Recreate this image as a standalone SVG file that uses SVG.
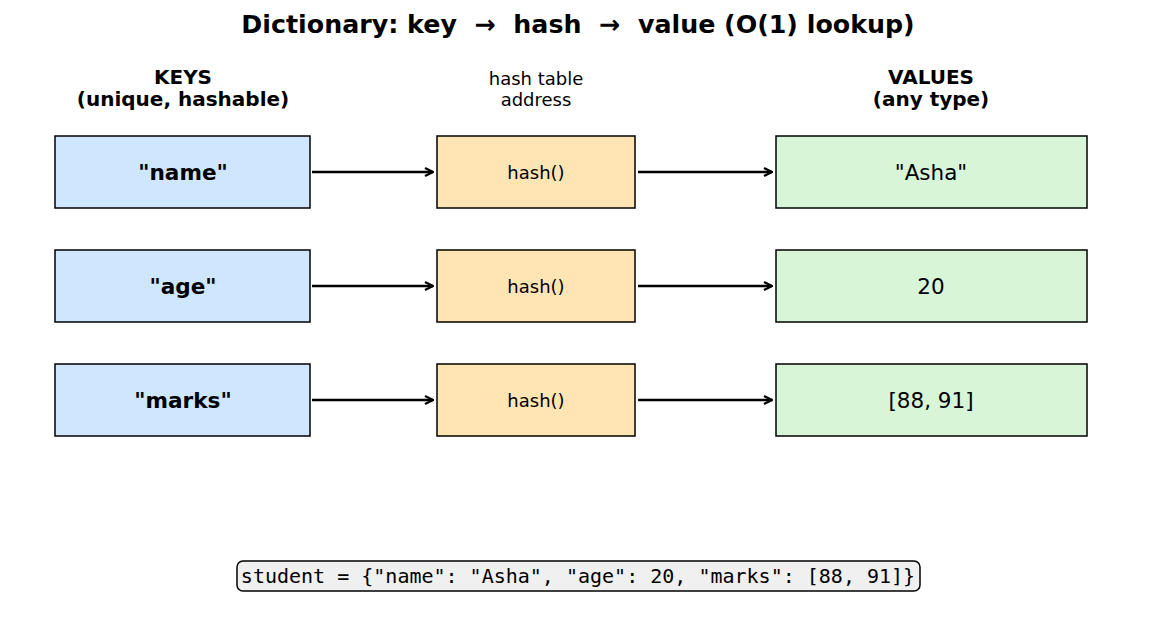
<svg xmlns="http://www.w3.org/2000/svg" width="1156" height="636" viewBox="0 0 1156 636">
<defs>
<marker id="ah" viewBox="0 0 12 12" refX="11" refY="6" markerWidth="12" markerHeight="12" orient="auto" markerUnits="userSpaceOnUse">
<path d="M3,2 L11,6 L3,10" fill="none" stroke="#000" stroke-width="2.4" stroke-linejoin="miter"/>
</marker>
<style>
text{font-family:"DejaVu Sans","Liberation Sans",sans-serif;fill:#000;text-anchor:middle;dominant-baseline:central;white-space:pre}
.box{stroke:#000;stroke-width:1.5}
.key{fill:#cfe6ff}
.hash{fill:#ffe5b3}
.val{fill:#d8f5d8}
.kt{font-size:21.6px;font-weight:bold}
.ht{font-size:18px}
.vt{font-size:21.5px}
.hd{font-size:20px;font-weight:bold}
.hn{font-size:18px}
.conn line{stroke:#000;stroke-width:2.4;marker-end:url(#ah)}
</style>
</defs>
<rect width="1156" height="636" fill="#fff"/>
<text x="578" y="24" xml:space="preserve" style="font-size:25.3px;font-weight:bold">Dictionary: key  →  hash  →  value (O(1) lookup)</text>
<g id="headers">
<text x="183" y="77" class="hd">KEYS</text>
<text x="183" y="99" class="hd">(unique, hashable)</text>
<text x="536" y="78" class="hn">hash table</text>
<text x="536" y="99" class="hn">address</text>
<text x="931" y="77" class="hd">VALUES</text>
<text x="931" y="99" class="hd">(any type)</text>
</g>
<g id="key-name"><rect class="box key" x="55" y="136" width="255" height="72"/><text x="183" y="172" class="kt">"name"</text></g>
<g id="key-age"><rect class="box key" x="55" y="250" width="255" height="72"/><text x="183" y="286" class="kt">"age"</text></g>
<g id="key-marks"><rect class="box key" x="55" y="364" width="255" height="72"/><text x="183" y="400" class="kt">"marks"</text></g>
<g id="hash-1"><rect class="box hash" x="437" y="136" width="198" height="72"/><text x="536" y="172" class="ht">hash()</text></g>
<g id="hash-2"><rect class="box hash" x="437" y="250" width="198" height="72"/><text x="536" y="286" class="ht">hash()</text></g>
<g id="hash-3"><rect class="box hash" x="437" y="364" width="198" height="72"/><text x="536" y="400" class="ht">hash()</text></g>
<g id="val-asha"><rect class="box val" x="776" y="136" width="311" height="72"/><text x="931" y="172" class="vt">"Asha"</text></g>
<g id="val-20"><rect class="box val" x="776" y="250" width="311" height="72"/><text x="931" y="286" class="vt">20</text></g>
<g id="val-marks"><rect class="box val" x="776" y="364" width="311" height="72"/><text x="931" y="400" class="vt">[88, 91]</text></g>
<g id="connectors" class="conn">
<line x1="312" y1="172" x2="433" y2="172"/>
<line x1="312" y1="286" x2="433" y2="286"/>
<line x1="312" y1="400" x2="433" y2="400"/>
<line x1="638" y1="172" x2="772" y2="172"/>
<line x1="638" y1="286" x2="772" y2="286"/>
<line x1="638" y1="400" x2="772" y2="400"/>
</g>
<g id="code">
<rect x="237" y="561" width="683" height="30" rx="6" fill="#f0f0f0" stroke="#000" stroke-width="1.5"/>
<text x="578" y="576" style="font-family:'DejaVu Sans Mono','Liberation Mono',monospace;font-size:20px">student = {"name": "Asha", "age": 20, "marks": [88, 91]}</text>
</g>
</svg>
